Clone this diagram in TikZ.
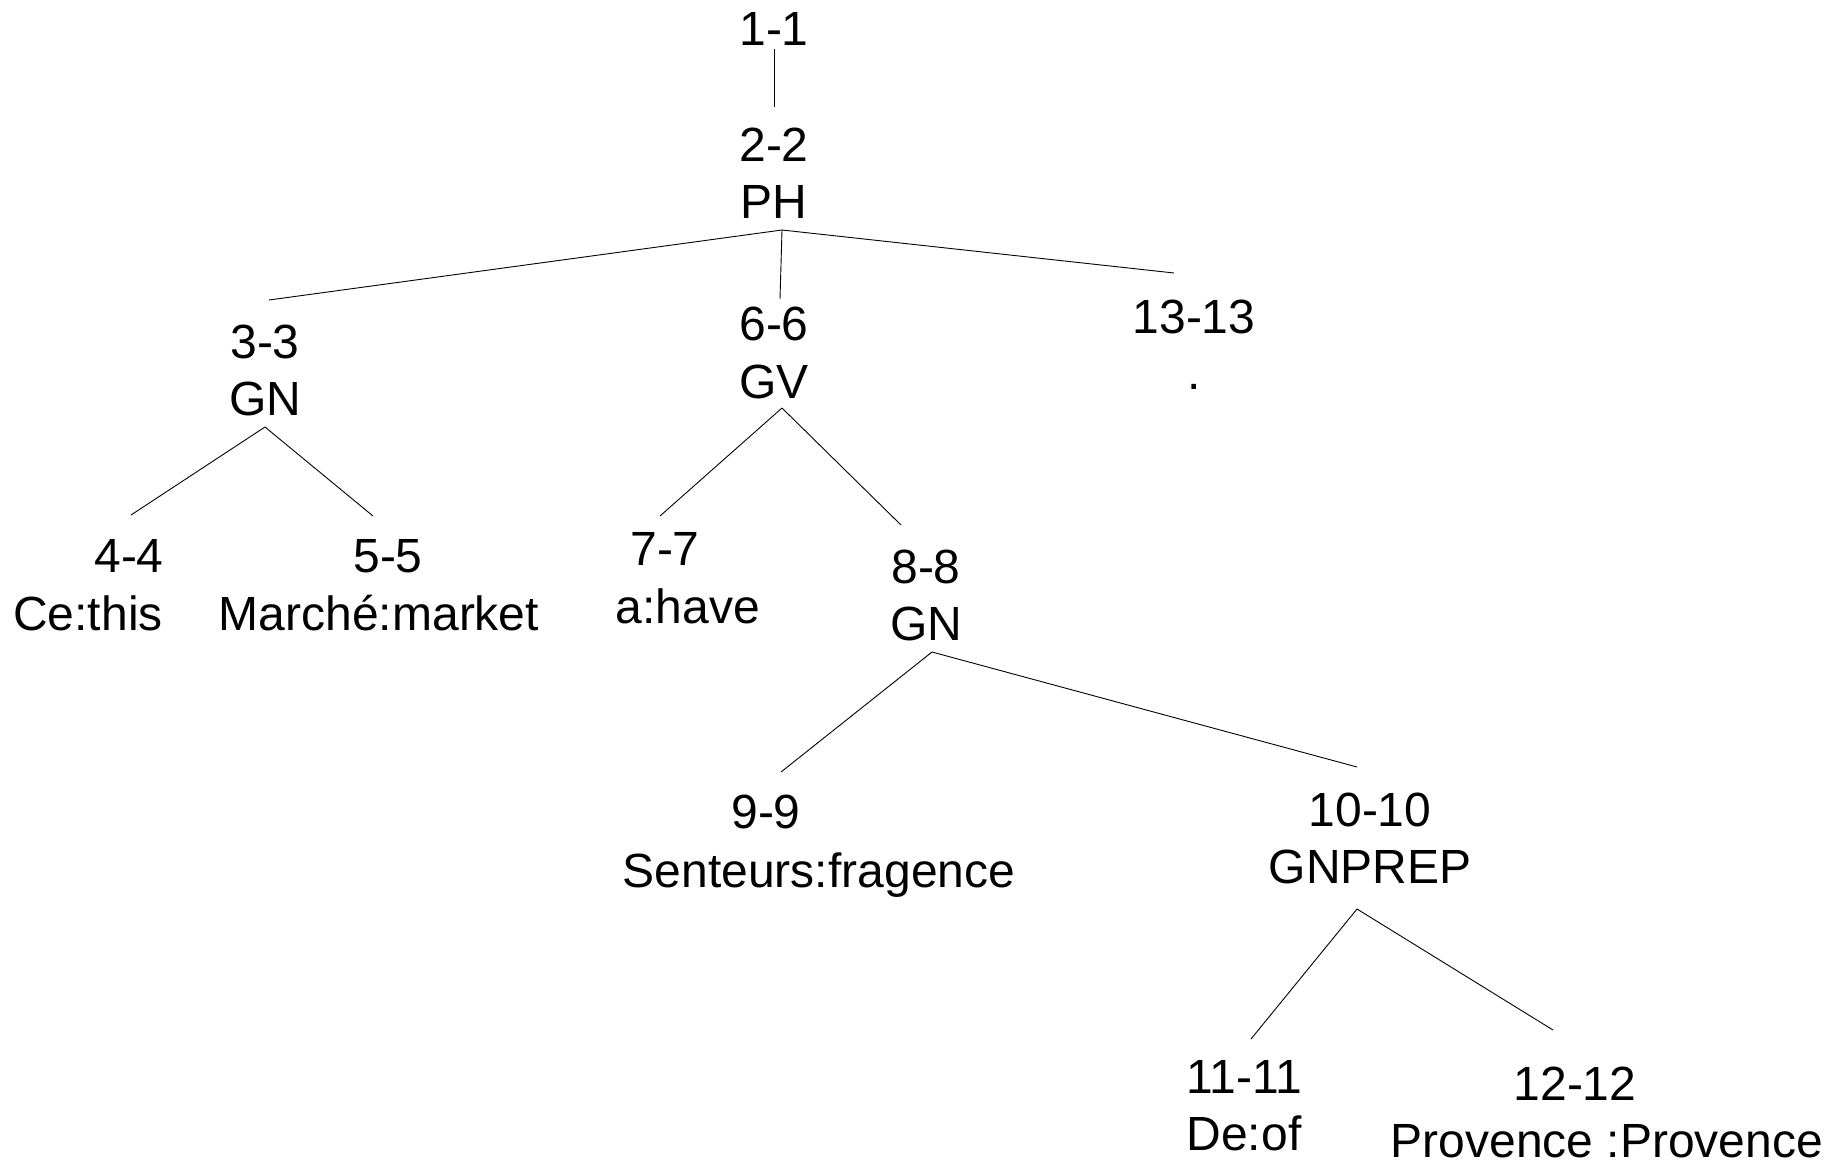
\documentclass[tikz,border=0pt]{standalone}
\usepackage{fontspec}
\setmainfont{Liberation Sans}
\begin{document}
\begin{tikzpicture}[x=1pt,y=-1pt,
  lbl/.style={anchor=base,inner sep=0pt,font=\fontsize{48}{56}\selectfont},
  edge/.style={draw=black,line width=0.9pt}]
\useasboundingbox[fill=white] (0,0) rectangle (1839,1165);

% tree labels: index line and category / word line
\node[lbl] (n1)  at (774,45)   {1-1};
\node[lbl] (n2)  at (774,161)  {2-2};
\node[lbl] (n2c) at (774,218)  {PH};
\node[lbl] (n3)  at (265,358)  {3-3};
\node[lbl] (n3c) at (265,415)  {GN};
\node[lbl] (n6)  at (774,340)  {6-6};
\node[lbl] (n6c) at (774,398)  {GV};
\node[lbl] (n13) at (1194,333) {13-13};
\node[lbl] (n13c) at (1194,389) {.};
\node[lbl] (n4)  at (129,572)  {4-4};
\node[lbl] (n4w) at (88,630)   {Ce:this};
\node[lbl] (n5)  at (388,572)  {5-5};
\node[lbl] (n5w) at (379,630)  {Marché:market};
\node[lbl] (n7)  at (665,565)  {7-7};
\node[lbl] (n7w) at (688,623)  {a:have};
\node[lbl] (n8)  at (926,583)  {8-8};
\node[lbl] (n8c) at (926,640)  {GN};
\node[lbl] (n9)  at (766,828)  {9-9};
\node[lbl] (n9w) at (819,887)  {Senteurs:fragence};
\node[lbl] (n10) at (1370,826) {10-10};
\node[lbl] (n10c) at (1370,883) {GNPREP};
\node[lbl] (n11) at (1244,1093) {11-11};
\node[lbl] (n11w) at (1244,1150) {De:of};
\node[lbl] (n12) at (1575,1100) {12-12};
\node[lbl] (n12w) at (1607,1157) {Provence :Provence};

% branch points below each parent and line ends above each child
\coordinate (b1)  at (774,49);
\coordinate (t2)  at (774,107);
\coordinate (b2)  at (782,230);
\coordinate (t3)  at (269,300);
\coordinate (t6)  at (780,299);
\coordinate (t13) at (1174,273);
\coordinate (b3)  at (265,427);
\coordinate (t4)  at (131,515);
\coordinate (t5)  at (373,516);
\coordinate (b6)  at (782,408);
\coordinate (t7)  at (660,516);
\coordinate (t8)  at (901,525);
\coordinate (b8)  at (932,652);
\coordinate (t9)  at (781,772);
\coordinate (t10) at (1357,767);
\coordinate (b10) at (1357,909);
\coordinate (t11) at (1251,1039);
\coordinate (t12) at (1553,1030);

\draw[edge] (b1) -- (t2);
\draw[edge] (b2) -- (t3);
\draw[edge] (b2) -- (t6);
\draw[edge] (b2) -- (t13);
\draw[edge] (b3) -- (t4);
\draw[edge] (b3) -- (t5);
\draw[edge] (b6) -- (t7);
\draw[edge] (b6) -- (t8);
\draw[edge] (b8) -- (t9);
\draw[edge] (b8) -- (t10);
\draw[edge] (b10) -- (t11);
\draw[edge] (b10) -- (t12);
\end{tikzpicture}
\end{document}
